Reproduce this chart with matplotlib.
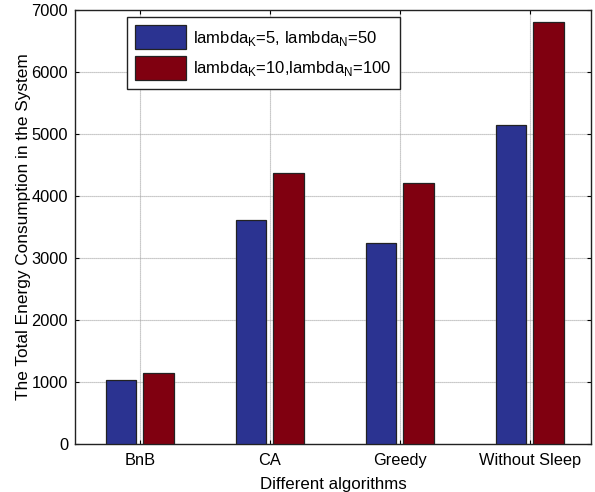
import numpy as np
import matplotlib
matplotlib.use('Agg')
import matplotlib.pyplot as plt

plt.rcParams['font.family'] = ['Liberation Sans', 'DejaVu Sans']
plt.rcParams['mathtext.fontset'] = 'custom'
plt.rcParams['mathtext.rm'] = 'Liberation Sans'

# data
algorithms = ['BnB', 'CA', 'Greedy', 'Without Sleep']
energy_k5_n50 = [1020, 3605, 3230, 5145]
energy_k10_n100 = [1145, 4360, 4210, 6810]
series_labels = [r'lambda$_\mathregular{K}$=5, lambda$_\mathregular{N}$=50',
                 r'lambda$_\mathregular{K}$=10,lambda$_\mathregular{N}$=100']

fig = plt.figure(figsize=(5.95, 4.92), dpi=100)
ax = fig.add_axes([75/595, 1-443.5/492, (591-75)/595, (443.5-10)/492])

x = np.arange(1, len(algorithms)+1)
w = 0.236
off = 0.145
ax.bar(x-off, energy_k5_n50, w, color='#2b3391', edgecolor='#222222',
       linewidth=0.9, label=series_labels[0], zorder=3)
ax.bar(x+off, energy_k10_n100, w, color='#800010', edgecolor='#222222',
       linewidth=0.9, label=series_labels[1], zorder=3)

ax.set_xlim(0.5, 4.47)
ax.set_ylim(0, 7000)
ax.set_xticks(x)
ax.set_xticklabels(algorithms)
ax.set_yticks(np.arange(0, 7001, 1000))
ax.grid(True, color='#a8a8a8', linestyle=(0, (1, 0.8)), linewidth=0.8, zorder=0)
ax.tick_params(direction='in', length=3, labelsize=11.8, top=True, right=True,
               width=0.8, pad=5)
ax.tick_params(axis='x', pad=7)
for s in ax.spines.values():
    s.set_linewidth(1.0)
    s.set_color('#222222')

ax.set_xlabel('Different algorithms', fontsize=12.2, labelpad=6)
ax.set_ylabel('The Total Energy Consumption in the System', fontsize=12.4, labelpad=0)

leg = ax.legend(loc='upper left', bbox_to_anchor=(0.1008, 0.984), fontsize=12,
                fancybox=False, framealpha=1, edgecolor='#222222',
                handlelength=3.05, handleheight=1.85, handletextpad=0.42,
                borderpad=0.5, labelspacing=0.4, borderaxespad=0)
leg.get_frame().set_linewidth(1.0)

fig.savefig('out.png', dpi=100)
